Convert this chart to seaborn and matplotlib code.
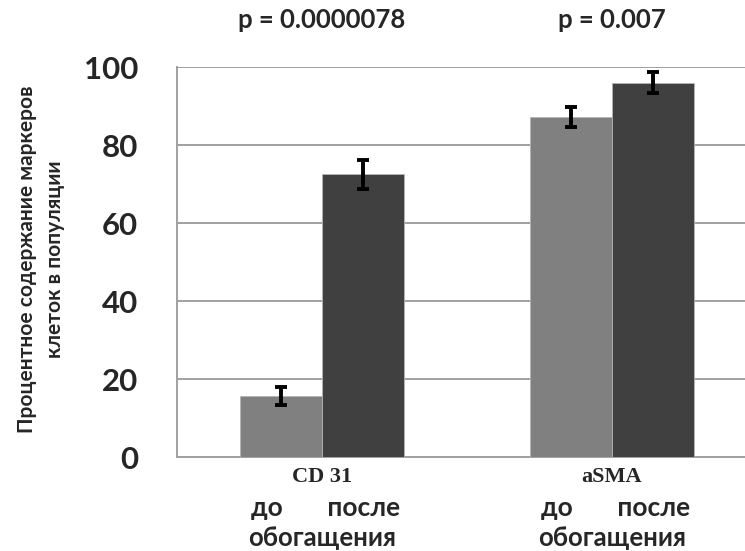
import pandas as pd
import seaborn as sns
import matplotlib.pyplot as plt

# данные
markers = ['CD 31', 'CD 31', 'aSMA', 'aSMA']
stages = ['до', 'после', 'до', 'после']
values = [15.7, 72.6, 87.3, 96.1]
err_before = [2.4, 2.5]
err_after = [3.7, 2.6]
p_values = ['p = 0.0000078', 'p = 0.007']
yticks = [0, 20, 40, 60, 80, 100]

df = pd.DataFrame({'marker': markers, 'stage': stages, 'value': values})

sns.set_style('white')
plt.rcParams['font.family'] = ['Lato', 'Noto Sans', 'DejaVu Sans']

fig = plt.figure(figsize=(7.45, 5.51), dpi=100)
ax = fig.add_axes([177 / 745, 93.7 / 551, 580 / 745, 390 / 551])

sns.barplot(
    x='marker', y='value', hue='stage', data=df,
    palette={'до': '#808080', 'после': '#404040'},
    width=0.565, errorbar=None, legend=False,
    edgecolor='#b5b5b5', linewidth=0.6, ax=ax, zorder=3
)

# планки погрешностей
for cont, errs in zip(ax.containers, [err_before, err_after]):
    xs = [b.get_x() + b.get_width() / 2 for b in cont]
    ys = [b.get_height() for b in cont]
    ax.errorbar(xs, ys, yerr=errs, fmt='none', ecolor='black',
                elinewidth=2.8, capsize=4, capthick=2.8, zorder=4)

ax.set_xlim(-0.5, 1.5)
ax.set_ylim(0, 100)
ax.set_yticks(yticks)
ax.yaxis.grid(True, color='#a0a0a0', linewidth=1.4, zorder=0)
ax.set_axisbelow(True)
for s in ['top', 'right']:
    ax.spines[s].set_visible(False)
for s in ['left', 'bottom']:
    ax.spines[s].set_color('#a0a0a0')
    ax.spines[s].set_linewidth(1.4)
ax.tick_params(axis='y', length=10, width=1.4, color='#a0a0a0',
               pad=18, labelsize=22.5)
ax.tick_params(axis='x', length=0, pad=7)
for lab in ax.get_yticklabels():
    lab.set_fontweight('bold')
ax.set_xticks([0, 1])
ax.set_xticklabels(['CD 31', 'aSMA'], family='Liberation Serif',
                   fontweight='bold', fontsize=16)
ax.set_xlabel('')
ax.set_ylabel('')

for i in range(2):
    ax.annotate('до       после', xy=(i, 0), xycoords=('data', 'axes fraction'),
                xytext=(4, -51), textcoords='offset pixels',
                ha='center', va='center', fontsize=19, fontweight='bold')
    ax.annotate('обогащения', xy=(i, 0), xycoords=('data', 'axes fraction'),
                xytext=(0, -81), textcoords='offset pixels',
                ha='center', va='center', fontsize=18.5, fontweight='bold')
    ax.annotate(p_values[i], xy=(i, 1), xycoords=('data', 'axes fraction'),
                xytext=(0, 47), textcoords='offset pixels',
                ha='center', va='center', fontsize=18.5, fontweight='bold')

fig.text(41 / 745, 1 - 259 / 551,
         'Процентное содержание маркеров\nклеток в популяции',
         rotation=90, ha='center', va='center', fontsize=15,
         fontweight='bold', linespacing=1.45)

fig.savefig('out.png', dpi=100)
